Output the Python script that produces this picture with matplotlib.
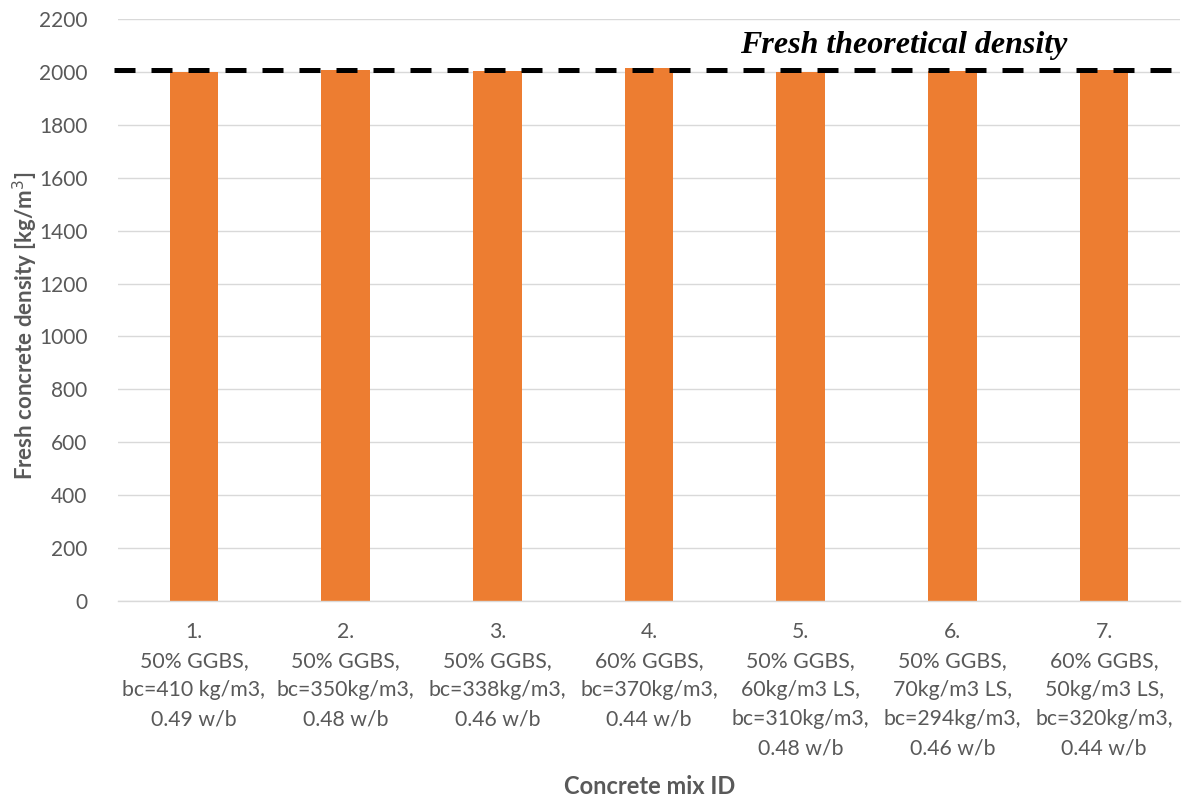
import matplotlib
matplotlib.use("Agg")
import matplotlib.pyplot as plt
import matplotlib.transforms as mtransforms
import numpy as np

categories = [
    "1.\n50% GGBS,\nbc=410 kg/m3,\n0.49 w/b",
    "2.\n50% GGBS,\nbc=350kg/m3,\n0.48 w/b",
    "3.\n50% GGBS,\nbc=338kg/m3,\n0.46 w/b",
    "4.\n60% GGBS,\nbc=370kg/m3,\n0.44 w/b",
    "5.\n50% GGBS,\n60kg/m3 LS,\nbc=310kg/m3,\n0.48 w/b",
    "6.\n50% GGBS,\n70kg/m3 LS,\nbc=294kg/m3,\n0.46 w/b",
    "7.\n60% GGBS,\n50kg/m3 LS,\nbc=320kg/m3,\n0.44 w/b",
]
densities = [1999, 2009, 2004, 2014, 1999, 2004, 2009]
theoretical_density = 2006
yticks = list(range(0, 2201, 200))

plt.rcParams['font.family'] = ['Lato', 'DejaVu Sans']
grey = '#595959'

fig = plt.figure(figsize=(11.84, 7.98), dpi=100)
ax = fig.add_axes([0.0997, 0.2469, 0.8969, 0.7293])

x = np.arange(len(categories))
ax.bar(x, densities, width=0.32, color='#ED7D31', zorder=2)

ax.axhline(theoretical_density, xmin=-0.004, xmax=1.01, color='black',
           lw=3.6, linestyle=(0, (4.2, 3.2)), zorder=3, clip_on=False)
ax.text(4.68, theoretical_density + 40, "Fresh theoretical density",
        family='Liberation Serif', fontweight='bold', fontstyle='italic',
        fontsize=23, ha='center', va='bottom', color='black')

ax.set_xlim(-0.5, len(categories) - 0.5)
ax.set_ylim(0, 2200)
ax.set_yticks(yticks)
ax.set_xticks(x)
ax.set_xticklabels([])
trans = mtransforms.blended_transform_factory(ax.transData, ax.transAxes)
for xi, lab in zip(x, categories):
    ax.text(xi, -0.036, lab, transform=trans, ha='center', va='top',
            fontsize=15.3, color=grey, linespacing=1.57, multialignment='center')

ax.tick_params(axis='y', labelsize=15, colors=grey, length=0, pad=22)
ax.tick_params(axis='x', length=0)
ax.yaxis.grid(True, color='#d9d9d9', lw=1.0, zorder=0)
ax.set_axisbelow(True)
for s in ['top', 'right', 'left']:
    ax.spines[s].set_visible(False)
ax.spines['bottom'].set_color('#d9d9d9')
ax.spines['bottom'].set_linewidth(1.0)

ax.set_ylabel("Fresh concrete density [kg/m$^3$]", fontsize=16,
              fontweight='bold', color=grey, va='center')
ax.yaxis.set_label_coords(-0.0876, 0.473)
ax.set_xlabel("Concrete mix ID", fontsize=17, fontweight='bold',
              color=grey, va='center')
ax.xaxis.set_label_coords(0.501, -0.318)

fig.savefig("out.png", dpi=100)
